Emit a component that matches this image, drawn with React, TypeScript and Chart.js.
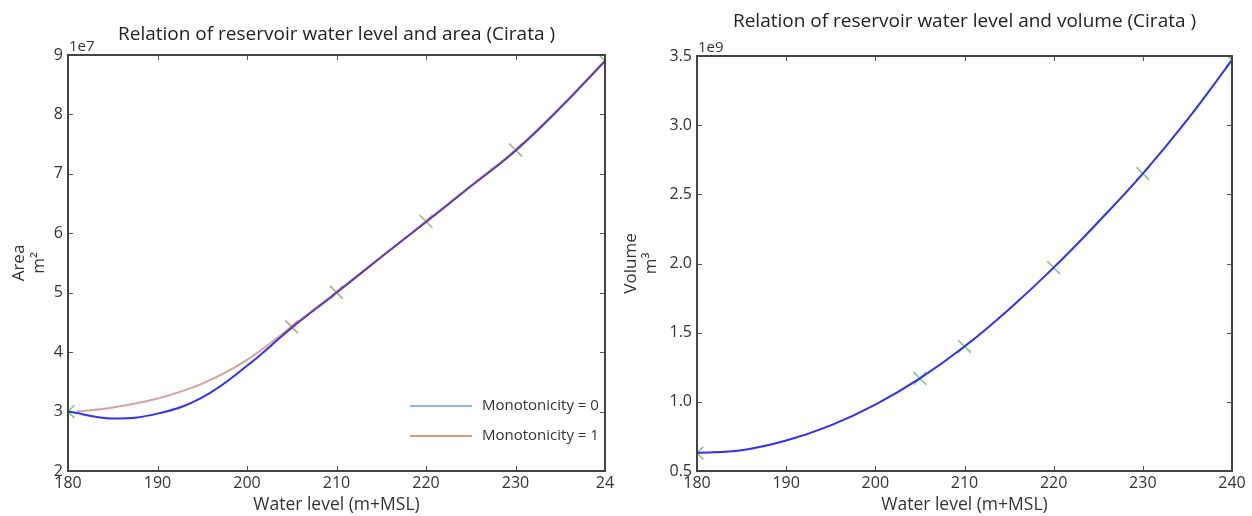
import React, { useEffect, useRef } from 'react';
import { Chart, registerables } from 'chart.js';

Chart.register(...registerables);

// ---------- data ----------
const areaLevels0 = [180, 185, 190, 195, 200, 205, 210, 215, 220, 225, 230, 235, 240];
const areaMonotonicity0 = [3.0e7, 2.885e7, 2.965e7, 3.24e7, 3.77e7, 4.41e7, 5.0e7, 5.6e7, 6.19e7, 6.79e7, 7.39e7, 8.11e7, 8.9e7];

const areaLevels1 = [181, 185, 190, 195, 200, 205, 210, 215, 220, 225, 230, 235, 240];
const areaMonotonicity1 = [3.0e7, 3.07e7, 3.22e7, 3.47e7, 3.87e7, 4.43e7, 5.01e7, 5.6e7, 6.2e7, 6.8e7, 7.4e7, 8.12e7, 8.9e7];

const areaMarkerLevels = [180, 205, 210, 220, 230, 240];
const areaMarkers = [3.0e7, 4.42e7, 5.0e7, 6.2e7, 7.4e7, 8.9e7];
const areaMarkerLevels1 = [205, 210, 220, 230];
const areaMarkers1 = [4.44e7, 5.02e7, 6.2e7, 7.41e7];

const volumeLevels = [180, 185, 190, 195, 200, 205, 210, 215, 220, 225, 230, 235, 240];
const volumeValues = [0.63e9, 0.65e9, 0.72e9, 0.83e9, 0.98e9, 1.17e9, 1.4e9, 1.67e9, 1.97e9, 2.3e9, 2.65e9, 3.04e9, 3.47e9];
const volumeMarkerLevels = [180, 205, 210, 220, 230, 240];
const volumeMarkers = [0.63e9, 1.17e9, 1.4e9, 1.97e9, 2.65e9, 3.47e9];

const xTicks = [180, 190, 200, 210, 220, 230, 240];
const xTickLabelsLeft = ['180', '190', '200', '210', '220', '230', '24'];
const xTickLabelsRight = ['180', '190', '200', '210', '220', '230', '240'];
const areaTicks = [2e7, 3e7, 4e7, 5e7, 6e7, 7e7, 8e7, 9e7];
const areaTickLabels = ['2', '3', '4', '5', '6', '7', '8', '9'];
const volumeTicks = [0.5e9, 1.0e9, 1.5e9, 2.0e9, 2.5e9, 3.0e9, 3.5e9];
const volumeTickLabels = ['0.5', '1.0', '1.5', '2.0', '2.5', '3.0', '3.5'];

const legendLabels = ['Monotonicity = 0', 'Monotonicity = 1'];
const legendColors = ['#6c9fd8', '#c57a4e'];

const FONT = '"Open Sans", "Noto Sans", sans-serif';
const TEXT = '#333333';

const pts = (xs: number[], ys: number[]) => xs.map((x, i) => ({ x, y: ys[i] }));

const framePlugin = {
  id: 'frame',
  afterDatasetsDraw(chart: any, _args: any, opts: any) {
    const { ctx, chartArea: a, scales } = chart;
    const line = (x1: number, y1: number, x2: number, y2: number) => {
      ctx.beginPath();
      ctx.moveTo(x1, y1);
      ctx.lineTo(x2, y2);
      ctx.stroke();
    };
    ctx.save();
    ctx.strokeStyle = '#555555';
    ctx.lineWidth = 1;
    const tl = 5;
    scales.x.ticks.forEach((t: any) => {
      const px = Math.round(scales.x.getPixelForValue(t.value)) + 0.5;
      line(px, a.bottom, px, a.bottom - tl);
      line(px, a.top, px, a.top + tl);
    });
    scales.y.ticks.forEach((t: any) => {
      const py = Math.round(scales.y.getPixelForValue(t.value)) + 0.5;
      line(a.left, py, a.left + tl, py);
      line(a.right, py, a.right - tl, py);
    });
    ctx.strokeStyle = '#444444';
    ctx.lineWidth = 2;
    ctx.strokeRect(a.left, a.top, a.right - a.left, a.bottom - a.top);

    ctx.fillStyle = TEXT;
    ctx.font = `15px ${FONT}`;
    ctx.textAlign = 'left';
    ctx.textBaseline = 'bottom';
    ctx.fillText(opts.exponent, a.left + 1, a.top - 1);

    if (opts.legend) {
      const items = opts.legend as { label: string; color: string }[];
      items.forEach((it, i) => {
        const y = a.bottom - 65 + i * 30;
        ctx.strokeStyle = it.color;
        ctx.lineWidth = 1.5;
        line(a.right - 195, y, a.right - 133, y);
        ctx.fillStyle = TEXT;
        ctx.font = `15px ${FONT}`;
        ctx.textBaseline = 'middle';
        ctx.fillText(it.label, a.right - 123, y);
      });
    }
    ctx.restore();
  },
};

function makeOptions(p: {
  title: string;
  titleTop: number;
  titleBottom: number;
  yTitle: string[];
  yWidth: number;
  padRight: number;
  yMin: number;
  yMax: number;
  yTicks: number[];
  yLabels: string[];
  xLabels: string[];
  exponent: string;
  legend?: { label: string; color: string }[];
}) {
  return {
    responsive: false,
    animation: false,
    layout: { padding: { left: 0, right: p.padRight, top: 0, bottom: 0 } },
    plugins: {
      legend: { display: false },
      tooltip: { enabled: false },
      title: {
        display: true,
        text: p.title,
        fullSize: false,
        color: '#222222',
        font: { family: FONT, size: 19, weight: 'normal', lineHeight: 1.2 },
        padding: { top: p.titleTop, bottom: p.titleBottom },
      },
      frame: { exponent: p.exponent, legend: p.legend },
    },
    scales: {
      x: {
        type: 'linear',
        min: 180,
        max: 240,
        grid: { display: false, drawTicks: false },
        border: { display: false },
        afterBuildTicks: (s: any) => {
          s.ticks = xTicks.map((v) => ({ value: v }));
        },
        afterFit: (s: any) => {
          s.height = 45;
        },
        ticks: {
          autoSkip: false,
          maxRotation: 0,
          padding: 3,
          color: TEXT,
          font: { family: FONT, size: 16 },
          callback: (_v: any, i: number) => p.xLabels[i],
        },
        title: {
          display: true,
          text: 'Water level (m+MSL)',
          color: TEXT,
          font: { family: FONT, size: 17.5, lineHeight: 1.25 },
          padding: { top: 0, bottom: 0 },
        },
      },
      y: {
        type: 'linear',
        min: p.yMin,
        max: p.yMax,
        grid: { display: false, drawTicks: false },
        border: { display: false },
        afterBuildTicks: (s: any) => {
          s.ticks = p.yTicks.map((v) => ({ value: v }));
        },
        afterFit: (s: any) => {
          s.width = p.yWidth;
        },
        ticks: {
          autoSkip: false,
          padding: 5,
          color: TEXT,
          font: { family: FONT, size: 16 },
          callback: (_v: any, i: number) => p.yLabels[i],
        },
        title: {
          display: true,
          text: p.yTitle,
          color: TEXT,
          font: { family: FONT, size: 17, lineHeight: 1.2 },
          padding: { top: 9, bottom: 0 },
        },
      },
    },
  };
}

const lineCommon = {
  pointRadius: 0,
  tension: 0.4,
  cubicInterpolationMode: 'default',
};

const markerCommon = {
  showLine: false,
  pointStyle: 'crossRot',
  pointRadius: 9,
  pointBorderWidth: 1.4,
  clip: 0,
};

function AreaChart() {
  const ref = useRef<HTMLCanvasElement | null>(null);
  useEffect(() => {
    if (!ref.current) return;
    const chart = new Chart(ref.current, {
      type: 'line',
      data: {
        datasets: [
          {
            ...markerCommon,
            data: pts(areaMarkerLevels, areaMarkers),
            pointBorderColor: 'rgba(70, 175, 70, 0.75)',
            order: 4,
          },
          {
            ...markerCommon,
            data: pts(areaMarkerLevels1, areaMarkers1),
            pointBorderColor: 'rgba(235, 160, 160, 0.6)',
            order: 3,
          },
          {
            ...lineCommon,
            data: pts(areaLevels0, areaMonotonicity0),
            borderColor: '#2f2fff',
            borderWidth: 2,
            order: 2,
          },
          {
            ...lineCommon,
            data: pts(areaLevels1, areaMonotonicity1),
            borderColor: 'rgba(175, 70, 70, 0.5)',
            borderWidth: 2,
            order: 1,
          },
        ],
      } as any,
      options: makeOptions({
        title: 'Relation of reservoir water level and area (Cirata )',
        titleTop: 23.6,
        titleBottom: 8.6,
        yTitle: ['Area', 'm²'],
        yWidth: 68,
        padRight: 15,
        yMin: 2e7,
        yMax: 9e7,
        yTicks: areaTicks,
        yLabels: areaTickLabels,
        xLabels: xTickLabelsLeft,
        exponent: '1e7',
        legend: legendLabels.map((label, i) => ({ label, color: legendColors[i] })),
      }) as any,
      plugins: [framePlugin],
    });
    return () => chart.destroy();
  }, []);
  return (
    <canvas
      ref={ref}
      width={620}
      height={516}
      style={{ position: 'absolute', left: 0, top: 0, width: 620, height: 516 }}
    />
  );
}

function VolumeChart() {
  const ref = useRef<HTMLCanvasElement | null>(null);
  useEffect(() => {
    if (!ref.current) return;
    const chart = new Chart(ref.current, {
      type: 'line',
      data: {
        datasets: [
          {
            ...markerCommon,
            data: pts(volumeMarkerLevels, volumeMarkers),
            pointBorderColor: 'rgba(70, 175, 70, 0.75)',
            order: 2,
          },
          {
            ...lineCommon,
            data: pts(volumeLevels, volumeValues),
            borderColor: '#2f2fff',
            borderWidth: 2,
            order: 1,
          },
        ],
      } as any,
      options: makeOptions({
        title: 'Relation of reservoir water level and volume (Cirata )',
        titleTop: 10.6,
        titleBottom: 22.6,
        yTitle: ['Volume', 'm³'],
        yWidth: 85,
        padRight: 20,
        yMin: 0.5e9,
        yMax: 3.5e9,
        yTicks: volumeTicks,
        yLabels: volumeTickLabels,
        xLabels: xTickLabelsRight,
        exponent: '1e9',
      }) as any,
      plugins: [framePlugin],
    });
    return () => chart.destroy();
  }, []);
  return (
    <canvas
      ref={ref}
      width={640}
      height={516}
      style={{ position: 'absolute', left: 612, top: 0, width: 640, height: 516 }}
    />
  );
}

export default function App() {
  return (
    <div style={{ position: 'fixed', left: 0, top: 0, width: 1252, height: 516, background: '#ffffff' }}>
      <AreaChart />
      <VolumeChart />
    </div>
  );
}
